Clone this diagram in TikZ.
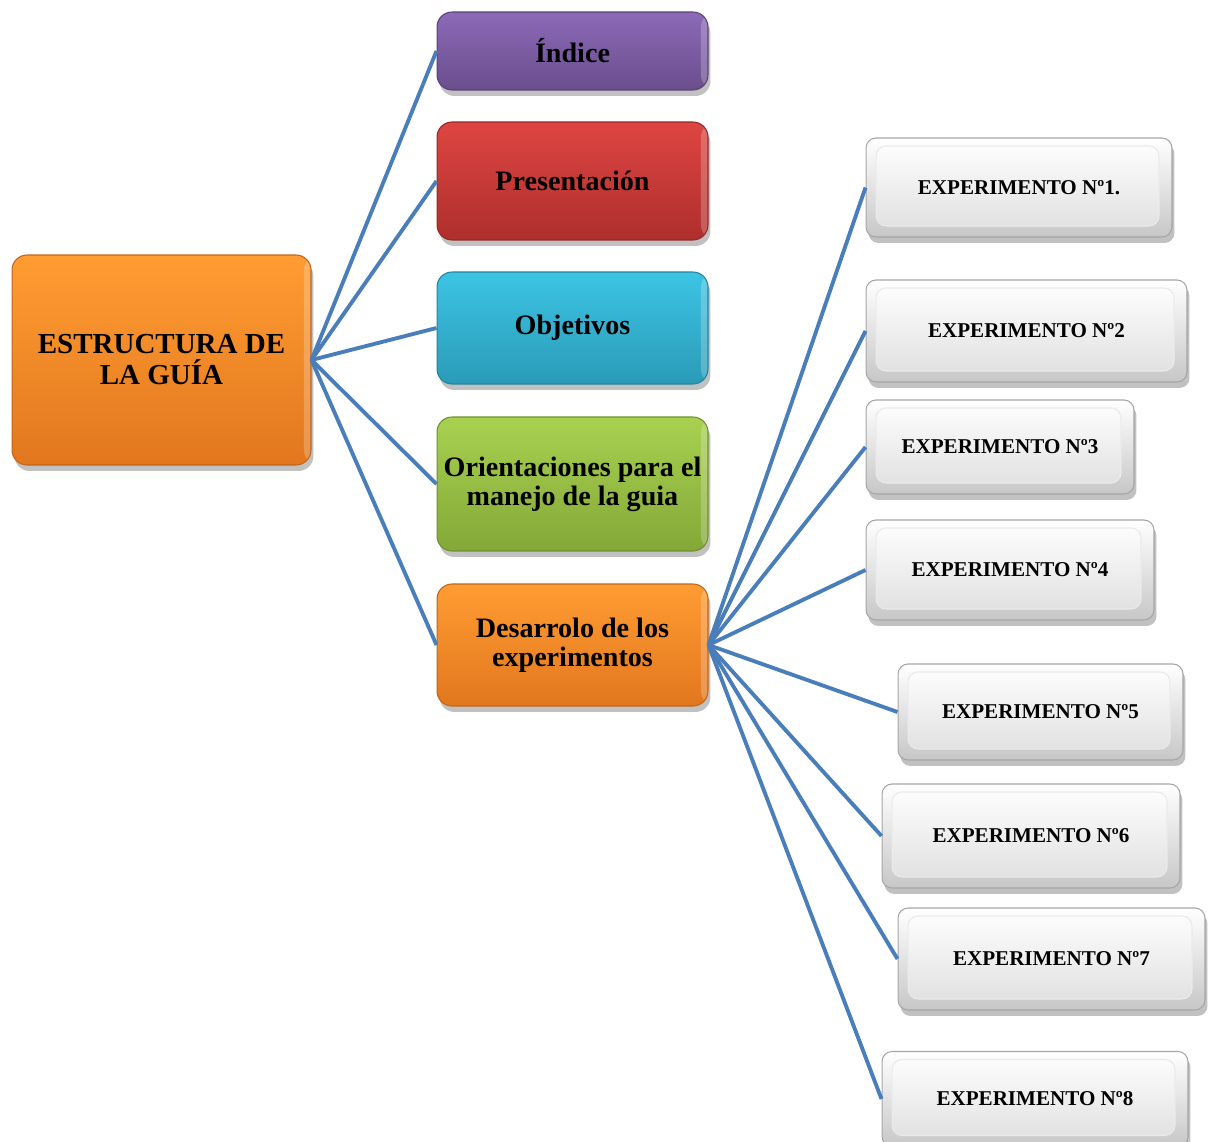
\documentclass[tikz,border=0pt]{standalone}
\usepackage{fontspec}
\setmainfont{Liberation Serif}
\usetikzlibrary{shadows}
\definecolor{linkblue}{HTML}{4A7EBB}
\definecolor{purpT}{HTML}{8C6AB8}
\definecolor{purpB}{HTML}{6A4E8C}
\definecolor{redT}{HTML}{DE4542}
\definecolor{redB}{HTML}{AE2F2D}
\definecolor{cyanT}{HTML}{3CC4E4}
\definecolor{cyanB}{HTML}{2A9BB7}
\definecolor{greenT}{HTML}{A8D150}
\definecolor{greenB}{HTML}{84A838}
\definecolor{orT}{HTML}{FF9C32}
\definecolor{orB}{HTML}{E2771E}
\begin{document}
\begin{tikzpicture}[x=0.02cm,y=-0.02cm,
  shadowed/.style={drop shadow={shadow xshift=0.5mm, shadow yshift=-1.2mm, opacity=0.35, fill=black!70}},
  cbox/.style n args={2}{rounded corners=0.3cm, top color=#1, bottom color=#2, draw=#2!85!black, line width=0.6pt,
     shadowed, align=center, inner sep=0pt, font=\fontsize{16}{16.6}\selectfont\bfseries,
     path picture={\fill[white,opacity=0.22] ([xshift=-0.14cm]path picture bounding box.north east) rectangle (path picture bounding box.south east);}},
  expbox/.style={rounded corners=0.2cm, top color=white, bottom color=black!22, draw=black!35, line width=0.6pt,
     shadowed, align=center, inner sep=0pt, font=\fontsize{12}{14}\selectfont\bfseries,
     path picture={\fill[top color=white, bottom color=black!13, draw=black!8] ([xshift=0.2cm,yshift=-0.16cm]path picture bounding box.north west) rectangle ([xshift=-0.26cm,yshift=0.22cm]path picture bounding box.south east);}},
  link/.style={draw=linkblue, line width=2.2pt}]
\useasboundingbox (0,0) rectangle (1211,1142);

% root
\node[cbox={orT}{orB}, minimum width=5.98cm, minimum height=4.2cm,
      font=\fontsize{16.5}{17.6}\selectfont\bfseries] (root) at (161.5,360) {ESTRUCTURA DE\\LA GUÍA};

% second level
\node[cbox={purpT}{purpB}, minimum width=5.42cm, minimum height=1.56cm] (idx) at (572.5,51) {Índice};
\node[cbox={redT}{redB}, minimum width=5.42cm, minimum height=2.36cm] (pres) at (572.5,181) {Presentación};
\node[cbox={cyanT}{cyanB}, minimum width=5.42cm, minimum height=2.24cm] (obj) at (572.5,328) {Objetivos};
\node[cbox={greenT}{greenB}, minimum width=5.42cm, minimum height=2.68cm] (ori) at (572.5,484) {Orientaciones para el\\manejo de la guia};
\node[cbox={orT}{orB}, minimum width=5.42cm, minimum height=2.44cm] (des) at (572.5,645) {Desarrolo de los\\experimentos};

% experiments
\node[expbox, minimum width=6.12cm, minimum height=1.98cm] (e1) at (1019,187.5) {EXPERIMENTO Nº1.};
\node[expbox, minimum width=6.42cm, minimum height=2.04cm] (e2) at (1026.5,331) {EXPERIMENTO Nº2};
\node[expbox, minimum width=5.36cm, minimum height=1.88cm] (e3) at (1000,447) {EXPERIMENTO Nº3};
\node[expbox, minimum width=5.76cm, minimum height=2.0cm] (e4) at (1010,570) {EXPERIMENTO Nº4};
\node[expbox, minimum width=5.7cm, minimum height=1.92cm] (e5) at (1040.5,712) {EXPERIMENTO Nº5};
\node[expbox, minimum width=5.96cm, minimum height=2.08cm] (e6) at (1031,836) {EXPERIMENTO Nº6};
\node[expbox, minimum width=6.14cm, minimum height=2.04cm] (e7) at (1051.5,959) {EXPERIMENTO Nº7};
\node[expbox, minimum width=6.12cm, minimum height=1.9cm] (e8) at (1035,1099) {EXPERIMENTO Nº8};

% connectors
\foreach \t in {idx,pres,obj,ori,des}
  \draw[link] (root.east) -- (\t.west);
\foreach \t in {e1,e2,e3,e4,e5,e6,e7,e8}
  \draw[link] (des.east) -- (\t.west);
\end{tikzpicture}
\end{document}
